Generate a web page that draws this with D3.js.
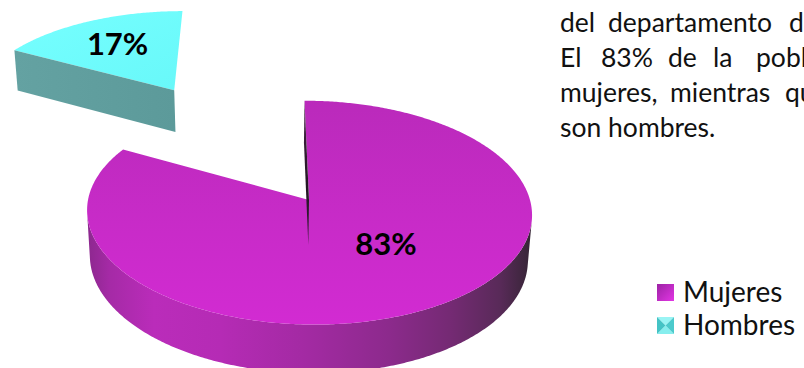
<!DOCTYPE html>
<html>
<head>
<meta charset="utf-8">
<script src="https://cdn.jsdelivr.net/npm/d3@7"></script>
<style>
  html, body { margin: 0; padding: 0; background: #ffffff; }
  svg { display: block; }
</style>
</head>
<body>
<svg id="chart" width="804" height="368"></svg>
<script>
// ---- data ----
const categories = ["Mujeres", "Hombres"];
const values = [83, 17];
const valueLabels = ["83%", "17%"];
const explode = [0, 1.3];            // slice pull-out, in pie radii

// paragraph beside the chart (justified lines, right part cut by the page edge)
const paragraphWords = [
  ["del", "departamento", "d"],
  ["El", "83%", "de", "la", "pobl"],
  ["mujeres,", "mientras", "qu"],
  ["son", "hombres."]
];

// ---- layout ----
const W = 804, H = 368;
const view = { cx: 309, cy: 200, k: 221, D: 7.66, tilt: 30 * Math.PI / 180, u0: 0.2, depth: 0.24 };
const labelPlace = [ { frac: 0.467, r: 0.50 }, { frac: 0.5, r: 0.65 } ];
const paragraph = { x0: 560, baseline0: 31.5, lineStep: 35.3, fontSize: 26.5,
  wordX: [[560, 608, 789], [560, 601, 668, 713, 756], [560, 670, 785], [560, 612]] };
const legend = { x: 657, y: 284, size: 17, step: 33, textX: 683, fontSize: 28 };

const topFill = ["url(#topMuj)", "url(#topHom)"];
const sideFill = ["url(#sideMuj)", "url(#sideHom)"];

const svg = d3.select("#chart");
const defs = svg.append("defs");

function linGrad(id, x1, y1, x2, y2, stops) {
  const g = defs.append("linearGradient").attr("id", id)
    .attr("x1", x1).attr("y1", y1).attr("x2", x2).attr("y2", y2);
  stops.forEach(([o, c]) => g.append("stop").attr("offset", o).attr("stop-color", c));
}
linGrad("topMuj", 0, 0, 0, 1, [[0, "#BA2ABB"], [0.55, "#C82BC8"], [1, "#D22BD2"]]);
linGrad("sideMuj", 0, 0, 1, 0, [[0, "#8C288E"], [0.05, "#A52AA6"], [0.15, "#BA2CBA"], [0.3, "#B52BB5"],
  [0.5, "#A22AA2"], [0.68, "#8C2A8C"], [0.82, "#742A73"], [0.93, "#582A58"], [1, "#352535"]]);
linGrad("wallMuj", 0, 0, 0, 1, [[0, "#4A264A"], [0.6, "#221622"], [1, "#3A1E3A"]]);
linGrad("topHom", 0, 0, 1, 1, [[0, "#76FFFF"], [1, "#68F8F9"]]);
linGrad("sideHom", 0, 0, 1, 0, [[0, "#64A2A2"], [1, "#5C9A9A"]]);
linGrad("legMuj", 0, 0, 1, 1, [[0, "#9C22A4"], [1, "#E236E4"]]);

// ---- 3D projection of the pie plane (u right, v away, w up) ----
const sinT = Math.sin(view.tilt), cosT = Math.cos(view.tilt);
const camX = view.cx - view.k * view.u0;
function project(u, v, w) {
  const yv = v * sinT + w * cosT;
  const z = view.D + v * cosT - w * sinT;
  const s = view.D / z;
  return [camX + view.k * (u + view.u0) * s, view.cy - view.k * yv * s];
}
const cam = { u: -view.u0, v: -view.D * cosT };
const line = d3.line().curve(d3.curveLinearClosed);

const arcs = d3.pie().sort(null).value(d => d)(values);
const slices = arcs.map((p, i) => {
  const mid = (p.startAngle + p.endAngle) / 2;
  return { i, a: p.startAngle, b: p.endAngle, mid, pulled: explode[i] > 0,
    cu: explode[i] * Math.sin(mid), cv: explode[i] * Math.cos(mid) };
});

function rim(s, t, w) { return project(s.cu + Math.sin(t), s.cv + Math.cos(t), w); }
function arcPts(s, from, to, w) {
  const n = Math.max(2, Math.ceil(Math.abs(to - from) / 0.01));
  return d3.range(n + 1).map(j => rim(s, from + (to - from) * j / n, w));
}
function facesOuter(s, t) {
  const pu = s.cu + Math.sin(t), pv = s.cv + Math.cos(t);
  return (cam.u - pu) * Math.sin(t) + (cam.v - pv) * Math.cos(t) > 0;
}
// cosine between a radial wall's normal and the direction to the camera
function radialFacing(s, nu, nv) {
  const du = cam.u - s.cu, dv = cam.v - s.cv;
  return (du * nu + dv * nv) / Math.hypot(du, dv);
}

const hBot = -view.depth;
const g = svg.append("g");

// farther slices first
const order = slices.slice().sort((p, q) => q.cv - p.cv);
order.forEach(s => {
  const sg = g.append("g").attr("class", "slice-" + s.i);

  // outer wall: visible runs only
  const steps = Math.ceil((s.b - s.a) / 0.01);
  let run = [];
  const runs = [];
  for (let j = 0; j <= steps; j++) {
    const t = s.a + (s.b - s.a) * j / steps;
    if (facesOuter(s, t)) run.push(t); else if (run.length) { runs.push(run); run = []; }
  }
  if (run.length) runs.push(run);
  runs.forEach(r => {
    if (r.length < 2) return;
    const pts = r.map(t => rim(s, t, 0)).concat(r.slice().reverse().map(t => rim(s, t, hBot)));
    sg.append("path").attr("d", line(pts)).attr("fill", sideFill[s.i]);
  });

  // top face
  const c0 = project(s.cu, s.cv, 0);
  const topPts = [c0].concat(arcPts(s, s.a, s.b, 0));
  sg.append("path").attr("d", line(topPts)).attr("fill", topFill[s.i]);

  // radial walls facing the viewer (near edge-on walls of a pulled slice are skipped)
  const walls = [
    { t: s.a, nu: -Math.cos(s.a), nv: Math.sin(s.a) },
    { t: s.b, nu: Math.cos(s.b), nv: -Math.sin(s.b) }
  ];
  walls.forEach(wl => {
    const f = radialFacing(s, wl.nu, wl.nv);
    if (f <= 0 || (s.pulled && f < 0.1)) return;
    const pts = [project(s.cu, s.cv, 0), rim(s, wl.t, 0), rim(s, wl.t, hBot), project(s.cu, s.cv, hBot)];
    sg.append("path").attr("d", line(pts))
      .attr("fill", s.pulled ? sideFill[s.i] : "url(#wallMuj)");
  });
});

// value labels on the top faces
slices.forEach(s => {
  const lp = labelPlace[s.i];
  const t = s.a + (s.b - s.a) * lp.frac;
  const p = project(s.cu + lp.r * Math.sin(t), s.cv + lp.r * Math.cos(t), 0);
  g.append("text")
    .attr("x", p[0]).attr("y", p[1]).attr("dy", "0.36em")
    .attr("text-anchor", "middle")
    .attr("font-family", "Lato, 'Open Sans', sans-serif")
    .attr("font-weight", 700).attr("font-size", 31)
    .attr("fill", "#000")
    .text(valueLabels[s.i]);
});

// paragraph
const para = svg.append("g")
  .attr("font-family", "Lato, 'Open Sans', sans-serif")
  .attr("font-size", paragraph.fontSize).attr("fill", "#111");
paragraphWords.forEach((words, li) => {
  const y = paragraph.baseline0 + li * paragraph.lineStep;
  const t = para.append("text").attr("y", y);
  if (li === paragraphWords.length - 1) {
    // last line is not justified: natural spacing
    t.attr("x", paragraph.x0).text(words.join(" "));
  } else {
    words.forEach((w, wi) => t.append("tspan").attr("x", paragraph.wordX[li][wi]).text(w));
  }
});

// legend
const leg = svg.append("g").attr("class", "legend");
const items = leg.selectAll("g").data(categories).join("g")
  .attr("transform", (d, i) => `translate(${legend.x},${legend.y + i * legend.step})`);
items.each(function (d, i) {
  const it = d3.select(this);
  const sz = legend.size;
  if (i === 0) {
    it.append("rect").attr("width", sz).attr("height", sz).attr("fill", "url(#legMuj)");
  } else {
    const m = sz / 2;
    const tri = [
      [[0, 0], [sz, 0], [m, m], "#9AF4F4"],
      [[0, sz], [sz, sz], [m, m], "#86EEEE"],
      [[0, 0], [0, sz], [m, m], "#44C3C5"],
      [[sz, 0], [sz, sz], [m, m], "#4CCACC"]
    ];
    tri.forEach(tr => it.append("path").attr("d", line(tr.slice(0, 3))).attr("fill", tr[3]));
  }
  it.append("text")
    .attr("x", legend.textX - legend.x).attr("y", sz + 1)
    .attr("font-family", "Lato, 'Open Sans', sans-serif")
    .attr("font-size", legend.fontSize).attr("fill", "#111")
    .text(d);
});
</script>
</body>
</html>
